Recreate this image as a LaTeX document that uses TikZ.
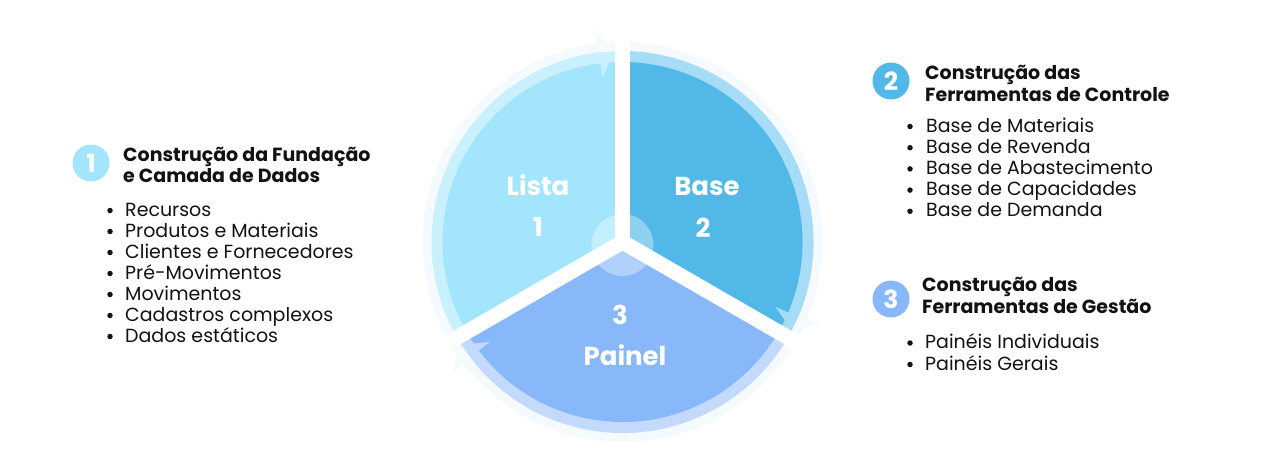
\documentclass[tikz,border=0pt]{standalone}
\usepackage{fontspec}
\setmainfont{Poppins}
\definecolor{ink}{HTML}{141111}
\definecolor{cA}{HTML}{A3E5FC}
\definecolor{cAb}{HTML}{C9F0FD}
\definecolor{cB}{HTML}{52B8E8}
\definecolor{cBb}{HTML}{A6DCF5}
\definecolor{cC}{HTML}{88B7FA}
\definecolor{cCb}{HTML}{C3DAFC}
\definecolor{halo}{HTML}{F4FAFE}
\tikzset{
  head/.style={anchor=base west, font=\fontsize{19}{21}\selectfont\bfseries, text=ink, inner sep=0pt},
  item/.style={anchor=base west, font=\fontsize{19}{21}\selectfont, text=ink, inner sep=0pt},
  num/.style={circle, minimum size=37pt, inner sep=0pt, text=white, font=\fontsize{25}{25}\selectfont\bfseries},
  lab/.style={anchor=base, text=white, font=\fontsize{26}{26}\selectfont\bfseries, inner sep=0pt},
  dotb/.style={circle, fill=ink, minimum size=5.5pt, inner sep=0pt},
  gapline/.style={white, line width=15pt},
}
\begin{document}
\begin{tikzpicture}[x=1pt,y=-1pt]
\useasboundingbox (0,0) rectangle (1280,463);
\fill[white] (0,0) rectangle (1280,463);
% ---------------- pie ----------------
\begin{scope}[shift={(622.5,242)}]
  \coordinate (pc) at (0,0);
  % halo ring
  \fill[halo] (0:200pt) arc[start angle=0,end angle=360,radius=200pt] -- cycle;
  % bands
  \fill[cAb] (pc) -- (90:191pt) arc[start angle=90,end angle=210,radius=191pt] -- cycle;
  \fill[cBb] (pc) -- (-30:191pt) arc[start angle=-30,end angle=90,radius=191pt] -- cycle;
  \fill[cCb] (pc) -- (-150:191pt) arc[start angle=-150,end angle=-30,radius=191pt] -- cycle;
  % fills
  \fill[cA] (pc) -- (90:180pt) arc[start angle=90,end angle=210,radius=180pt] -- cycle;
  \fill[cB] (pc) -- (-30:180pt) arc[start angle=-30,end angle=90,radius=180pt] -- cycle;
  \fill[cC] (pc) -- (-150:180pt) arc[start angle=-150,end angle=-30,radius=180pt] -- cycle;
  % centre glow
  \fill[white, opacity=0.35] (0,3) circle (31pt);
  % gaps
  \draw[gapline] (pc) -- (90:225pt);
  \draw[gapline] (pc) -- (210:225pt);
  \draw[gapline] (pc) -- (330:225pt);
  % arrow heads
  \foreach \e/\cb in {90/cAb,-30/cBb,-150/cCb}{
    \fill[halo] (\e+7:190pt) -- (\e+2.5:191pt) -- (\e+7.5:214pt) -- cycle;
    \fill[\cb] (\e+7:166pt) -- (\e+2.5:191pt) -- (\e+7:191pt) -- cycle;
  }
\end{scope}
% pie labels
\node[lab] (l1a) at (538,195) {Lista};
\node[lab] (l1b) at (538,236) {1};
\node[lab] (l2a) at (707,195) {Base};
\node[lab] (l2b) at (703,237) {2};
\node[lab] (l3a) at (620,324) {3};
\node[lab] (l3b) at (625,365) {Painel};
% ---------------- block 1 ----------------
\node[num, fill=cA] (n1) at (91,163) {1};
\node[head] (h1a) at (123,161) {Construção da Fundação};
\node[head] (h1b) at (123,182.5) {e Camada de Dados};
\foreach \t [count=\i] in {Recursos,Produtos e Materiais,Clientes e Fornecedores,Pré-Movimentos,Movimentos,Cadastros complexos,Dados estáticos}{
  \node[dotb] (b1d\i) at (110,{216+21*(\i-1)-5.5}) {};
  \node[item] (b1t\i) at (125,{216+21*(\i-1)}) {\t};
}
% ---------------- block 2 ----------------
\node[num, fill=cB] (n2) at (891,81) {2};
\node[head] (h2a) at (925,79.5) {Construção das};
\node[head] (h2b) at (925,101) {Ferramentas de Controle};
\foreach \t [count=\i] in {Base de Materiais,Base de Revenda,Base de Abastecimento,Base de Capacidades,Base de Demanda}{
  \node[dotb] (b2d\i) at (910,{132+21.2*(\i-1)-5.5}) {};
  \node[item] (b2t\i) at (926,{132+21.2*(\i-1)}) {\t};
}
% ---------------- block 3 ----------------
\node[num, fill=cC] (n3) at (891,299) {3};
\node[head] (h3a) at (922,291.5) {Construção das};
\node[head] (h3b) at (922,313) {Ferramentas de Gestão};
\foreach \t [count=\i] in {Painéis Individuais,Painéis Gerais}{
  \node[dotb] (b3d\i) at (910,{348.5+21.5*(\i-1)-5.5}) {};
  \node[item] (b3t\i) at (925,{348.5+21.5*(\i-1)}) {\t};
}
\end{tikzpicture}
\end{document}
